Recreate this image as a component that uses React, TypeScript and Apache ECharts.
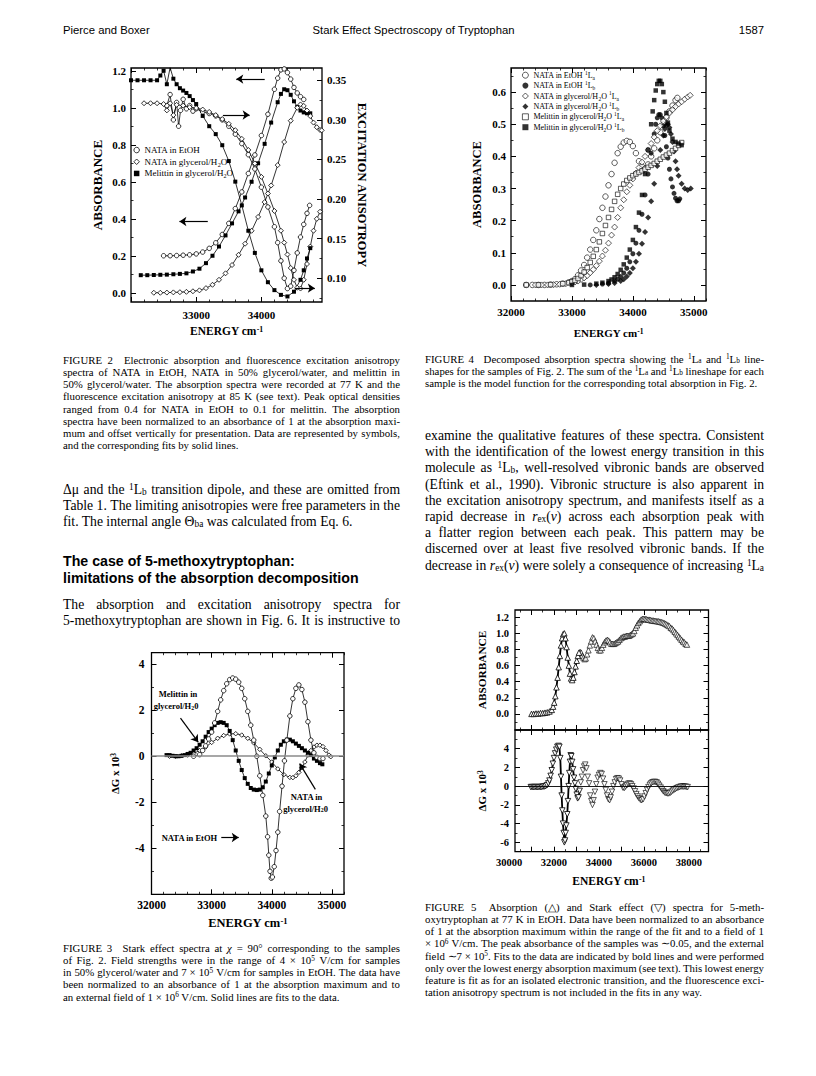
import React, { useEffect, useRef } from "react";
import * as echarts from "echarts";

type Pt = [number, number];

/* ====================== TEXT CONTENT ====================== */
const HEADER_LEFT = "Pierce and Boxer";
const HEADER_CENTER = "Stark Effect Spectroscopy of Tryptophan";
const HEADER_RIGHT = "1587";

const FIG2_CAPTION = [
  "FIGURE 2\u2002 Electronic absorption and fluorescence excitation anisotropy",
  "spectra of NATA in EtOH, NATA in 50% glycerol/water, and melittin in",
  "50% glycerol/water. The absorption spectra were recorded at 77 K and the",
  "fluorescence excitation anisotropy at 85 K (see text). Peak optical densities",
  "ranged from 0.4 for NATA in EtOH to 0.1 for melittin. The absorption",
  "spectra have been normalized to an absorbance of 1 at the absorption maxi-",
  "mum and offset vertically for presentation. Data are represented by symbols,",
  "and the corresponding fits by solid lines.",
];
const LEFT_BODY_1 = [
  "\u0394\u03BC and the {sup|1}L{sub|b} transition dipole, and these are omitted from",
  "Table 1. The limiting anisotropies were free parameters in the",
  "fit. The internal angle \u0398{sub|ba} was calculated from Eq. 6.",
];
const LEFT_HEADING = ["The case of 5-methoxytryptophan:", "limitations of the absorption decomposition"];
const LEFT_BODY_2 = [
  "The absorption and excitation anisotropy spectra for",
  "5-methoxytryptophan are shown in Fig. 6. It is instructive to",
];
const FIG4_CAPTION = [
  "FIGURE 4\u2002 Decomposed absorption spectra showing the {sup|1}L{sub|a} and {sup|1}L{sub|b} line-",
  "shapes for the samples of Fig. 2. The sum of the {sup|1}L{sub|a} and {sup|1}L{sub|b} lineshape for each",
  "sample is the model function for the corresponding total absorption in Fig. 2.",
];
const RIGHT_BODY = [
  "examine the qualitative features of these spectra. Consistent",
  "with the identification of the lowest energy transition in this",
  "molecule as {sup|1}L{sub|b}, well-resolved vibronic bands are observed",
  "(Eftink et al., 1990). Vibronic structure is also apparent in",
  "the excitation anisotropy spectrum, and manifests itself as a",
  "rapid decrease in {it|r}{sub|ex}({it|\u03BD}) across each absorption peak with",
  "a flatter region between each peak. This pattern may be",
  "discerned over at least five resolved vibronic bands. If the",
  "decrease in {it|r}{sub|ex}({it|\u03BD}) were solely a consequence of increasing {sup|1}L{sub|a}",
];
const FIG3_CAPTION = [
  "FIGURE 3\u2002 Stark effect spectra at {it|\u03C7} = 90\u00B0 corresponding to the samples",
  "of Fig. 2. Field strengths were in the range of 4 \u00D7 10{sup|5} V/cm for samples",
  "in 50% glycerol/water and 7 \u00D7 10{sup|5} V/cm for samples in EtOH. The data have",
  "been normalized to an absorbance of 1 at the absorption maximum and to",
  "an external field of 1 \u00D7 10{sup|6} V/cm. Solid lines are fits to the data.",
];
const FIG5_CAPTION = [
  "FIGURE 5\u2002 Absorption (\u25B3) and Stark effect (\u25BD) spectra for 5-meth-",
  "oxytryptophan at 77 K in EtOH. Data have been normalized to an absorbance",
  "of 1 at the absorption maximum within the range of the fit and to a field of 1",
  "\u00D7 10{sup|6} V/cm. The peak absorbance of the samples was \u223C0.05, and the external",
  "field \u223C7 \u00D7 10{sup|5}. Fits to the data are indicated by bold lines and were performed",
  "only over the lowest energy absorption maximum (see text). This lowest energy",
  "feature is fit as for an isolated electronic transition, and the fluorescence exci-",
  "tation anisotropy spectrum is not included in the fits in any way.",
];

const NAME_ENERGY = "ENERGY cm{sup|-1}";
const NAME_ABS = "ABSORBANCE";
const NAME_ANIS = "EXCITATION ANISOTROPY";
const NAME_DG = "\u0394G x 10{sup|3}";

/* ====================== FIGURE 2 DATA ====================== */
const F2_X_TICKS = [32000, 33000, 34000];
const F2_X_LABELS = [33000, 34000];
const F2_ABS_LABELS = [0, 0.2, 0.4, 0.6, 0.8, 1.0, 1.2];
const F2_ANI_LABELS = [0.1, 0.15, 0.2, 0.25, 0.3, 0.35];
const F2_NAMES = ["NATA in EtOH", "NATA in glycerol/H2O", "Melittin in glycerol/H2O"];

const F2_ABS_ETOH: Pt[] = [
  [32500, 0.2], [32600, 0.2], [32700, 0.201], [32800, 0.203], [32900, 0.205], [33000, 0.21],
  [33100, 0.22], [33200, 0.24], [33300, 0.27], [33400, 0.315], [33500, 0.375], [33600, 0.455],
  [33700, 0.545], [33800, 0.645], [33900, 0.745], [34000, 0.85], [34100, 0.965], [34200, 1.1],
  [34250, 1.16], [34300, 1.205], [34350, 1.21], [34400, 1.19], [34450, 1.155], [34500, 1.11],
  [34550, 1.08], [34600, 1.06], [34650, 1.045],
];
const F2_ABS_MEL: Pt[] = [
  [32150, 0.095], [32250, 0.095], [32350, 0.096], [32450, 0.097], [32550, 0.098], [32650, 0.1],
  [32750, 0.102], [32850, 0.105], [32950, 0.115], [33050, 0.13], [33150, 0.16], [33250, 0.2],
  [33350, 0.25], [33450, 0.31], [33550, 0.375], [33650, 0.44], [33750, 0.515], [33850, 0.6],
  [33950, 0.7], [34050, 0.805], [34150, 0.92], [34250, 1.03], [34300, 1.075], [34350, 1.1],
  [34400, 1.095], [34450, 1.07], [34500, 1.035], [34550, 1.005], [34600, 0.985], [34650, 0.975],
  [34700, 0.97], [34750, 0.97],
];
const F2_ABS_GLY: Pt[] = [
  [32350, 0.0], [32450, 0.0], [32550, 0.001], [32650, 0.002], [32750, 0.003], [32850, 0.005],
  [32950, 0.008], [33050, 0.013], [33150, 0.025], [33250, 0.043], [33350, 0.07], [33450, 0.105],
  [33550, 0.15], [33650, 0.205], [33750, 0.265], [33850, 0.335], [33950, 0.41], [34050, 0.49],
  [34150, 0.58], [34250, 0.69], [34350, 0.815], [34450, 0.93], [34550, 1.0], [34600, 1.018],
  [34650, 1.01], [34700, 0.985], [34750, 0.955], [34800, 0.92], [34850, 0.895], [34900, 0.88],
  [34925, 0.878],
];
const F2_ANI_ETOH: Pt[] = [
  [32550, 0.318], [32600, 0.332], [32650, 0.3], [32700, 0.322], [32730, 0.292], [32760, 0.312],
  [32800, 0.326], [32850, 0.314], [32900, 0.318], [32950, 0.311], [33000, 0.314], [33100, 0.31],
  [33200, 0.308], [33300, 0.305], [33400, 0.3], [33500, 0.292], [33600, 0.282], [33700, 0.27],
  [33800, 0.256], [33900, 0.238], [34000, 0.215], [34100, 0.19], [34200, 0.165], [34250, 0.145],
  [34300, 0.122], [34350, 0.1], [34400, 0.087], [34450, 0.09], [34500, 0.11], [34550, 0.132],
  [34600, 0.152], [34650, 0.168], [34700, 0.182], [34740, 0.192],
];
const F2_ANI_GLY: Pt[] = [
  [32200, 0.321], [32300, 0.321], [32400, 0.321], [32500, 0.32], [32550, 0.312], [32600, 0.321],
  [32650, 0.306], [32700, 0.319], [32800, 0.318], [32900, 0.316], [33000, 0.315], [33100, 0.313],
  [33200, 0.31], [33300, 0.306], [33400, 0.301], [33500, 0.295], [33600, 0.287], [33700, 0.276],
  [33800, 0.262], [33900, 0.245], [34000, 0.228], [34100, 0.207], [34200, 0.185], [34300, 0.16],
  [34350, 0.145], [34400, 0.13], [34450, 0.113], [34500, 0.098], [34550, 0.088], [34600, 0.087],
  [34650, 0.098], [34700, 0.118], [34750, 0.14], [34800, 0.16], [34850, 0.175], [34900, 0.184],
];
const F2_ANI_MEL: Pt[] = [
  [32000, 0.35], [32100, 0.35], [32200, 0.35], [32300, 0.35], [32400, 0.35], [32450, 0.356],
  [32500, 0.362], [32550, 0.345], [32600, 0.366], [32650, 0.352], [32700, 0.345], [32750, 0.34],
  [32800, 0.337], [32850, 0.334], [32900, 0.33], [32950, 0.325], [33000, 0.32], [33100, 0.305],
  [33200, 0.292], [33300, 0.282], [33400, 0.268], [33500, 0.248], [33600, 0.222], [33700, 0.192],
  [33800, 0.16], [33900, 0.132], [34000, 0.11], [34100, 0.095], [34200, 0.085], [34300, 0.079],
  [34400, 0.077], [34500, 0.083], [34600, 0.098], [34650, 0.11], [34700, 0.125], [34750, 0.138],
];
// arrows (data coordinates on the absorbance axis): [tail, head]
const F2_ARROWS: [Pt, Pt][] = [
  [[34051, 1.155], [33615, 1.155]],
  [[33410, 0.961], [33820, 0.961]],
  [[33178, 0.385], [32743, 0.385]],
  [[34512, 0.025], [34820, 0.025]],
];

/* ====================== FIGURE 4 DATA ====================== */
const F4_X_TICKS = [32000, 33000, 34000, 35000];
const F4_Y_TICKS = [0, 0.1, 0.2, 0.3, 0.4, 0.5, 0.6];
const F4_NAMES = [
  "NATA in EtOH 1La", "NATA in EtOH 1Lb", "NATA in glycerol/H2O 1La",
  "NATA in glycerol/H2O 1Lb", "Melittin in glycerol/H2O 1La", "Melittin in glycerol/H2O 1Lb",
];
const F4_ETOH_LA: Pt[] = [
  [32250, 0], [32350, 0], [32450, 0], [32550, 0], [32650, 0.001], [32750, 0.002], [32850, 0.004],
  [32950, 0.008], [33000, 0.012], [33050, 0.018], [33100, 0.03], [33150, 0.045], [33200, 0.062],
  [33250, 0.085], [33300, 0.11], [33350, 0.14], [33400, 0.17], [33450, 0.205], [33500, 0.24],
  [33550, 0.275], [33600, 0.31], [33650, 0.345], [33700, 0.38], [33750, 0.41], [33800, 0.43],
  [33850, 0.443], [33900, 0.448], [33950, 0.445], [34000, 0.432], [34050, 0.41], [34100, 0.385],
  [34150, 0.368], [34200, 0.362], [34250, 0.375], [34300, 0.4], [34350, 0.425], [34400, 0.45],
  [34450, 0.475], [34500, 0.5], [34550, 0.52], [34600, 0.54], [34650, 0.558], [34700, 0.575],
  [34730, 0.582],
];
const F4_ETOH_LB: Pt[] = [
  [33300, 0], [33500, 0.003], [33600, 0.006], [33700, 0.012], [33750, 0.018], [33800, 0.026],
  [33850, 0.037], [33900, 0.052], [33950, 0.072], [34000, 0.097], [34050, 0.13], [34100, 0.17],
  [34150, 0.22], [34200, 0.28], [34250, 0.345], [34300, 0.41], [34350, 0.47], [34375, 0.5],
  [34400, 0.52], [34425, 0.53], [34450, 0.53], [34475, 0.52], [34500, 0.495], [34525, 0.465],
  [34550, 0.43], [34575, 0.395], [34600, 0.36], [34625, 0.33], [34650, 0.305], [34675, 0.285],
  [34700, 0.27], [34725, 0.262], [34750, 0.262], [34770, 0.268],
];
const F4_GLY_LA: Pt[] = [
  [32400, 0], [32500, 0], [32600, 0], [32700, 0.001], [32800, 0.002], [32900, 0.004],
  [33000, 0.006], [33050, 0.009], [33100, 0.012], [33150, 0.017], [33200, 0.022], [33250, 0.029],
  [33300, 0.038], [33350, 0.048], [33400, 0.06], [33450, 0.074], [33500, 0.09], [33550, 0.108],
  [33600, 0.13], [33650, 0.155], [33700, 0.18], [33750, 0.21], [33800, 0.24], [33850, 0.265],
  [33900, 0.29], [33950, 0.31], [34000, 0.33], [34050, 0.348], [34100, 0.365], [34150, 0.382],
  [34200, 0.4], [34250, 0.42], [34300, 0.44], [34350, 0.46], [34400, 0.48], [34450, 0.495],
  [34500, 0.51], [34550, 0.523], [34600, 0.535], [34650, 0.545], [34700, 0.555], [34750, 0.563],
  [34800, 0.57], [34850, 0.578], [34900, 0.585], [34940, 0.59],
];
const F4_GLY_LB: Pt[] = [
  [33400, 0], [33600, 0.003], [33700, 0.006], [33800, 0.012], [33850, 0.018], [33900, 0.026],
  [33950, 0.037], [34000, 0.052], [34050, 0.072], [34100, 0.097], [34150, 0.128], [34200, 0.165],
  [34250, 0.21], [34300, 0.26], [34350, 0.315], [34400, 0.37], [34450, 0.42], [34500, 0.465],
  [34525, 0.485], [34550, 0.497], [34575, 0.5], [34600, 0.49], [34625, 0.47], [34650, 0.445],
  [34675, 0.415], [34700, 0.385], [34725, 0.36], [34750, 0.34], [34800, 0.315], [34850, 0.3],
  [34900, 0.295], [34950, 0.3],
];
const F4_MEL_LA: Pt[] = [
  [32250, 0], [32450, 0], [32650, 0.001], [32850, 0.004], [32950, 0.007], [33000, 0.01],
  [33050, 0.014], [33100, 0.02], [33150, 0.029], [33200, 0.04], [33250, 0.054], [33300, 0.07],
  [33350, 0.089], [33400, 0.11], [33450, 0.134], [33500, 0.16], [33550, 0.185], [33600, 0.21],
  [33650, 0.235], [33700, 0.26], [33750, 0.282], [33800, 0.3], [33850, 0.314], [33900, 0.325],
  [33950, 0.333], [34000, 0.34], [34050, 0.345], [34100, 0.35], [34150, 0.355], [34200, 0.36],
  [34250, 0.366], [34300, 0.372], [34350, 0.378], [34400, 0.385], [34450, 0.391], [34500, 0.398],
  [34550, 0.404], [34600, 0.41], [34650, 0.418], [34700, 0.425], [34750, 0.434], [34800, 0.443],
];
const F4_MEL_LB: Pt[] = [
  [33000, 0], [33200, 0.001], [33400, 0.004], [33500, 0.007], [33600, 0.012], [33650, 0.017],
  [33700, 0.024], [33750, 0.034], [33800, 0.047], [33850, 0.064], [33900, 0.085], [33950, 0.11],
  [34000, 0.14], [34050, 0.18], [34100, 0.225], [34150, 0.28], [34200, 0.345], [34250, 0.42],
  [34300, 0.5], [34325, 0.54], [34350, 0.575], [34375, 0.605], [34400, 0.625], [34425, 0.635],
  [34450, 0.635], [34475, 0.625], [34500, 0.6], [34525, 0.57], [34550, 0.535], [34575, 0.505],
  [34600, 0.48], [34650, 0.455], [34700, 0.445], [34750, 0.44], [34800, 0.435],
];

/* ====================== FIGURE 3 DATA ====================== */
const F3_X_TICKS = [32000, 33000, 34000, 35000];
const F3_Y_TICKS = [-4, -2, 0, 2, 4];
const F3_ETOH: Pt[] = [
  [32700, 0.0], [32800, 0.07], [32850, 0.25], [32900, 0.45], [32950, 0.75], [33000, 1.05],
  [33050, 1.45], [33100, 1.95], [33150, 2.45], [33200, 2.85], [33250, 3.15], [33300, 3.33],
  [33350, 3.4], [33400, 3.35], [33450, 3.22], [33500, 2.95], [33550, 2.5], [33600, 1.95],
  [33650, 1.35], [33700, 0.7], [33750, 0.0], [33800, -0.85], [33850, -1.7], [33900, -2.6],
  [33930, -3.5], [33950, -4.3], [33970, -5.0], [33990, -5.3], [34010, -5.25], [34040, -4.8],
  [34070, -4.1], [34100, -3.3], [34130, -2.4], [34170, -1.3], [34210, -0.2], [34250, 0.7],
  [34300, 1.75], [34350, 2.5], [34400, 2.95], [34450, 3.1], [34500, 2.9], [34550, 2.35],
  [34600, 1.5], [34650, 0.7], [34700, 0.15], [34750, -0.05], [34800, -0.1], [34850, -0.1],
];
const F3_MEL: Pt[] = [
  [32250, 0.05], [32300, 0.05], [32350, 0.02], [32400, 0.0], [32450, 0.0], [32500, 0.02],
  [32550, 0.05], [32600, 0.1], [32650, 0.15], [32700, 0.25], [32750, 0.35], [32800, 0.5],
  [32850, 0.65], [32900, 0.85], [32950, 1.05], [33000, 1.2], [33050, 1.35], [33100, 1.45],
  [33150, 1.48], [33200, 1.45], [33250, 1.35], [33300, 1.1], [33350, 0.7], [33400, 0.25],
  [33450, -0.2], [33500, -0.6], [33550, -0.95], [33600, -1.2], [33650, -1.38], [33700, -1.45],
  [33750, -1.47], [33800, -1.45], [33850, -1.35], [33900, -1.1], [33950, -0.75], [34000, -0.4],
  [34050, -0.05], [34100, 0.25], [34150, 0.5], [34200, 0.65], [34250, 0.72], [34300, 0.72],
  [34350, 0.65], [34400, 0.55], [34450, 0.45], [34500, 0.35], [34550, 0.25], [34600, 0.15],
  [34650, 0.05], [34700, -0.1], [34750, -0.2], [34800, -0.3], [34840, -0.35],
];
const F3_GLY: Pt[] = [
  [32300, 0.0], [32400, 0.0], [32500, 0.02], [32600, 0.05], [32700, 0.12], [32800, 0.25],
  [32900, 0.4], [33000, 0.6], [33100, 0.78], [33200, 0.9], [33300, 0.97], [33400, 0.98],
  [33500, 0.92], [33600, 0.78], [33700, 0.58], [33800, 0.3], [33900, 0.02], [34000, -0.25],
  [34100, -0.55], [34200, -0.8], [34300, -0.92], [34350, -0.93], [34400, -0.85], [34450, -0.7],
  [34500, -0.5], [34550, -0.25], [34600, 0.05], [34650, 0.25], [34700, 0.4], [34750, 0.48],
  [34800, 0.48], [34850, 0.42], [34900, 0.25], [34950, 0.05], [34980, -0.02],
];
const F3_ARROWS: [Pt, Pt][] = [
  [[32482, 1.66], [32776, 0.61]],
  [[34724, -1.44], [34463, -0.32]],
  [[33160, -3.53], [33450, -3.53]],
];
const F3_NOTES = ["Melittin in", "glycerol/H{sub|2}0", "NATA in", "glycerol/H{sub|2}0", "NATA in EtOH"];

/* ====================== FIGURE 5 DATA ====================== */
const F5_X_LABELS = [30000, 32000, 34000, 36000, 38000];
const F5_ABS_TICKS = [0, 0.2, 0.4, 0.6, 0.8, 1.0, 1.2];
const F5_DG_TICKS = [-6, -4, -2, 0, 2, 4];
const F5_FIT_END = 33150;
const F5_ABS: Pt[] = [
  [31000, 0.0], [31100, 0.0], [31200, 0.005], [31300, 0.005], [31400, 0.01], [31500, 0.01],
  [31600, 0.015], [31700, 0.02], [31800, 0.03], [31900, 0.05], [31960, 0.09], [32010, 0.14],
  [32060, 0.22], [32110, 0.33], [32160, 0.45], [32210, 0.58], [32260, 0.72], [32310, 0.85],
  [32360, 0.94], [32410, 0.99], [32460, 1.0], [32510, 0.94], [32560, 0.83], [32610, 0.7],
  [32660, 0.6], [32710, 0.5], [32760, 0.44], [32810, 0.42], [32860, 0.45], [32910, 0.52],
  [32960, 0.59], [33010, 0.66], [33060, 0.72], [33110, 0.76], [33160, 0.77], [33210, 0.76],
  [33260, 0.72], [33310, 0.7], [33360, 0.68], [33410, 0.69], [33470, 0.74], [33530, 0.79],
  [33590, 0.85], [33650, 0.9], [33710, 0.95], [33770, 0.94], [33830, 0.9], [33890, 0.86],
  [33950, 0.82], [34010, 0.79], [34070, 0.79], [34130, 0.82], [34190, 0.86], [34250, 0.89],
  [34310, 0.91], [34370, 0.92], [34430, 0.91], [34490, 0.89], [34550, 0.87], [34610, 0.87],
  [34670, 0.87], [34730, 0.88], [34790, 0.89], [34850, 0.9], [34910, 0.92], [34970, 0.94],
  [35030, 0.95], [35090, 0.96], [35150, 0.96], [35210, 0.97], [35270, 0.97], [35330, 0.97],
  [35390, 0.98], [35450, 0.99], [35510, 1.0], [35570, 1.03], [35630, 1.07], [35690, 1.1],
  [35750, 1.13], [35810, 1.15], [35870, 1.17], [35930, 1.18], [35990, 1.18], [36050, 1.18],
  [36110, 1.175], [36170, 1.17], [36230, 1.17], [36290, 1.165], [36350, 1.16], [36410, 1.16],
  [36470, 1.155], [36530, 1.155], [36590, 1.15], [36650, 1.15], [36710, 1.145], [36770, 1.14],
  [36830, 1.135], [36890, 1.13], [36950, 1.12], [37010, 1.11], [37070, 1.1], [37130, 1.09],
  [37190, 1.07], [37250, 1.06], [37310, 1.04], [37370, 1.02], [37430, 1.0], [37490, 0.98],
  [37550, 0.96], [37610, 0.94], [37670, 0.92], [37730, 0.9], [37790, 0.89], [37850, 0.87],
  [37910, 0.86],
];
const F5_DG: Pt[] = [
  [30970, -0.1], [31030, -0.1], [31090, -0.1], [31150, -0.1], [31210, -0.1], [31270, -0.1],
  [31330, -0.1], [31390, -0.1], [31450, -0.08], [31510, -0.06], [31570, -0.04], [31630, 0.0],
  [31690, 0.1], [31750, 0.3], [31800, 0.6], [31850, 1.1], [31900, 1.7], [31950, 2.4],
  [32000, 3.0], [32050, 3.5], [32100, 3.9], [32150, 4.2], [32200, 4.3], [32240, 4.2],
  [32280, 3.0], [32310, 1.0], [32340, -1.0], [32370, -2.6], [32400, -4.0], [32430, -5.0],
  [32460, -6.0], [32490, -5.8], [32520, -5.0], [32550, -4.2], [32590, -3.0], [32620, -1.6],
  [32650, 0.0], [32680, 1.4], [32710, 2.6], [32740, 3.3], [32770, 3.2], [32810, 2.6],
  [32850, 1.8], [32890, 0.9], [32930, 0.3], [32970, -0.3], [33010, -0.9], [33050, -1.3],
  [33090, -1.2], [33140, -0.5], [33190, 0.4], [33240, 1.0], [33290, 1.7], [33340, 2.1],
  [33390, 2.3], [33440, 1.9], [33500, 1.0], [33560, 0.3], [33610, -1.0], [33660, -1.6],
  [33710, -2.0], [33760, -1.5], [33820, -0.6], [33880, 0.2], [33940, 0.9], [34000, 1.2],
  [34060, 1.4], [34120, 1.3], [34180, 0.8], [34240, 0.2], [34300, -0.4], [34360, -1.0],
  [34420, -1.4], [34470, -1.5], [34520, -1.2], [34580, -0.6], [34640, 0.0], [34700, 0.4],
  [34760, 0.75], [34820, 0.85], [34880, 0.8], [34940, 0.6], [35000, 0.2], [35060, -0.15],
  [35120, -0.2], [35180, -0.05], [35240, 0.1], [35300, 0.25], [35360, 0.3], [35420, 0.2],
  [35480, 0.0], [35540, -0.25], [35600, -0.55], [35660, -0.85], [35720, -1.1], [35780, -1.3],
  [35840, -1.45], [35900, -1.5], [35960, -1.4], [36020, -1.1], [36080, -0.75], [36140, -0.4],
  [36200, -0.1], [36260, 0.15], [36320, 0.3], [36380, 0.42], [36440, 0.45], [36500, 0.45],
  [36560, 0.4], [36620, 0.25], [36680, 0.05], [36740, -0.15], [36800, -0.35], [36860, -0.55],
  [36920, -0.68], [36980, -0.75], [37040, -0.78], [37100, -0.78], [37160, -0.72], [37220, -0.6],
  [37280, -0.48], [37340, -0.38], [37400, -0.3], [37460, -0.22], [37520, -0.15], [37580, -0.1],
  [37640, -0.05], [37700, -0.05], [37760, -0.05], [37820, -0.05], [37880, -0.08], [37940, -0.1],
];

/* ====================== STYLE / LAYOUT ====================== */
const W = 816;
const H = 1076;
const SERIF = "'Liberation Serif', 'Times New Roman', Times, serif";
const SANS = "'Liberation Sans', Arial, Helvetica, sans-serif";
const OPEN = { color: "#fff", borderColor: "#000", borderWidth: 0.8 };
const FILL = { color: "#000", borderColor: "#000", borderWidth: 0 };

function range(a: number, b: number, d: number) {
  const out: number[] = [];
  for (let i = 0; a + i * d <= b + 1e-9; i++) out.push(Math.round((a + i * d) * 1e6) / 1e6);
  return out;
}
function minors(a: number, b: number, d: number, majors: number[]) {
  return range(a, b, d).filter((v) => !majors.some((m) => Math.abs(m - v) < 1e-9));
}

const SMALL = 0.68;
function richStyles(size: number, family: string, weight: string, gap?: number) {
  const small = Math.round(size * SMALL * 10) / 10;
  const r: any = {
    sup: { fontSize: small, fontFamily: family, fontWeight: weight, verticalAlign: "top", lineHeight: small * 1.05, fill: "#000", color: "#000" },
    sub: { fontSize: small, fontFamily: family, fontWeight: weight, verticalAlign: "bottom", lineHeight: small * 1.05, fill: "#000", color: "#000" },
    it: { fontSize: size, fontFamily: family, fontWeight: weight, fontStyle: "italic", fill: "#000", color: "#000" },
  };
  if (gap != null) r.g = { width: gap, fontSize: size, fontFamily: family, fontWeight: weight, fill: "#000" };
  return r;
}

let _ctx: CanvasRenderingContext2D | null = null;
function measure(line: string, size: number, family: string, weight = "normal") {
  if (!_ctx) _ctx = document.createElement("canvas").getContext("2d");
  const ctx = _ctx!;
  let w = 0;
  const re = /\{(\w+)\|([^}]*)\}/g;
  let last = 0;
  let m: RegExpExecArray | null;
  const run = (t: string, sz: number, style = "") => {
    if (!t) return;
    ctx.font = `${style}${weight} ${sz}px ${family}`;
    w += ctx.measureText(t).width;
  };
  while ((m = re.exec(line))) {
    run(line.slice(last, m.index), size);
    if (m[1] === "sub" || m[1] === "sup") run(m[2], Math.round(size * SMALL * 10) / 10);
    else run(m[2], size, m[1] === "it" ? "italic " : "");
    last = re.lastIndex;
  }
  run(line.slice(last), size);
  return w;
}
function fitSize(lines: string[], width: number) {
  let s = 100;
  for (const l of lines) s = Math.min(s, width / (measure(l, 100, SERIF) / 100));
  return s;
}

function txt(x: number, y: number, text: string, size: number, family: string, weight = "normal", align = "left", gap?: number) {
  return {
    type: "text",
    x,
    y,
    silent: true,
    z: 10,
    style: {
      text,
      fontSize: size,
      fontFamily: family,
      fontWeight: weight,
      fill: "#000",
      textAlign: align,
      textVerticalAlign: "middle",
      align,
      verticalAlign: "middle",
      rich: richStyles(size, family, weight, gap),
    },
  };
}

// one justified line (single text element, inter-word gaps as sized rich tokens)
function jline(x: number, y: number, line: string, size: number, colW: number, justify: boolean) {
  const words = line.split(" ");
  if (!justify || words.length < 2) return txt(x, y, line, size, SERIF);
  let sz = size;
  const spaceW = measure(" ", size, SERIF);
  let wordsW = words.reduce((s, w) => s + measure(w, size, SERIF), 0);
  let gap = (colW - wordsW) / (words.length - 1);
  if (gap < spaceW * 0.7) {
    const k = colW / (wordsW + spaceW * 0.7 * (words.length - 1));
    sz = size * k;
    wordsW = words.reduce((s, w) => s + measure(w, sz, SERIF), 0);
    gap = (colW - wordsW) / (words.length - 1);
  }
  return txt(x, y, words.join("{g| }"), sz, SERIF, "normal", "left", gap);
}

function legendMarkup(name: string) {
  return name.replace(/H2O/g, "H{sub|2}O").replace(/ 1L([ab])$/, " {sup|1}L{sub|$1}");
}

function buildOption() {
  const xAxes: any[] = [];
  const yAxes: any[] = [];
  const series: any[] = [];
  const add = (l: any[], o: any) => {
    l.push(o);
    return l.length - 1;
  };

  const mkAxis = (grid: number, min: number, max: number, pos: string, ticks: number[], len: number, lab?: any) => {
    const o: any = {
      type: "value",
      gridIndex: grid,
      min,
      max,
      position: pos,
      silent: true,
      axisLine: { show: false, onZero: false },
      splitLine: { show: false },
      splitArea: { show: false },
      axisPointer: { show: false },
      axisTick: { show: true, inside: true, length: len, customValues: ticks, lineStyle: { color: "#000", width: len > 3 ? 1 : 0.8 } },
      axisLabel: { show: false },
    };
    if (lab) {
      o.axisLabel = {
        show: true,
        customValues: lab.values,
        formatter: lab.fmt,
        fontFamily: SERIF,
        fontWeight: "bold",
        fontSize: lab.size,
        color: "#000",
        margin: lab.margin,
      };
      if (lab.name) {
        o.name = lab.name;
        o.nameLocation = "middle";
        o.nameGap = lab.nameGap;
        if (lab.nameRotate != null) o.nameRotate = lab.nameRotate;
        o.nameTextStyle = {
          fontFamily: SERIF,
          fontWeight: "bold",
          fontSize: lab.nameSize,
          color: "#000",
          rich: richStyles(lab.nameSize, SERIF, "bold"),
        };
      }
    }
    return o;
  };

  const frame = (grid: number, X: any, Y: any, xLab: any, yLab: any, YR?: any) => {
    const xi = add(xAxes, mkAxis(grid, X.min, X.max, "bottom", X.major, 5, xLab));
    add(xAxes, mkAxis(grid, X.min, X.max, "bottom", X.minor, 2.5));
    add(xAxes, mkAxis(grid, X.min, X.max, "top", X.major, 5));
    add(xAxes, mkAxis(grid, X.min, X.max, "top", X.minor, 2.5));
    const yi = add(yAxes, mkAxis(grid, Y.min, Y.max, "left", Y.major, 5, yLab));
    add(yAxes, mkAxis(grid, Y.min, Y.max, "left", Y.minor, 2.5));
    let yr = -1;
    if (YR) {
      yr = add(yAxes, mkAxis(grid, YR.min, YR.max, "right", YR.major, 5, YR.lab));
      add(yAxes, mkAxis(grid, YR.min, YR.max, "right", YR.minor, 2.5));
    } else {
      add(yAxes, mkAxis(grid, Y.min, Y.max, "right", Y.major, 5));
      add(yAxes, mkAxis(grid, Y.min, Y.max, "right", Y.minor, 2.5));
    }
    return { xi, yi, yr };
  };

  const symLine = (name: string, data: Pt[], xi: number, yi: number, symbol: string, size: number, filled: boolean, lw: number, extra: any = {}) => ({
    type: "line",
    name,
    data,
    xAxisIndex: xi,
    yAxisIndex: yi,
    symbol,
    symbolSize: size,
    showSymbol: true,
    showAllSymbol: true,
    itemStyle: filled ? FILL : OPEN,
    lineStyle: { color: "#000", width: lw },
    emphasis: { disabled: true },
    silent: true,
    ...extra,
  });
  const symScatter = (name: string, data: Pt[], xi: number, yi: number, symbol: string, size: number, filled: boolean, extra: any = {}) => ({
    type: "scatter",
    name,
    data,
    xAxisIndex: xi,
    yAxisIndex: yi,
    symbol,
    symbolSize: size,
    itemStyle: filled ? FILL : OPEN,
    emphasis: { disabled: true },
    silent: true,
    ...extra,
  });
  const arrows = (list: [Pt, Pt][]) => ({
    silent: true,
    symbol: ["none", "arrow"],
    symbolSize: 7,
    label: { show: false },
    emphasis: { disabled: true },
    lineStyle: { color: "#000", width: 1.2, type: "solid" },
    data: list.map(([a, b]) => [{ coord: a }, { coord: b }]),
  });
  const zeroLine = (color: string, width: number) => ({
    silent: true,
    symbol: ["none", "none"],
    label: { show: false },
    emphasis: { disabled: true },
    lineStyle: { color, width, type: "solid" },
    data: [{ yAxis: 0 }],
  });

  const grids = [
    { left: 131, top: 68, width: 191, height: 234, show: true },
    { left: 511, top: 68, width: 195, height: 233, show: true },
    { left: 151.5, top: 652.7, width: 192.5, height: 241.6, show: true },
    { left: 515, top: 610, width: 193.5, height: 120, show: true },
    { left: 515, top: 730, width: 193.5, height: 121.7, show: true },
    { left: 509, top: 730, width: 199.5, height: 121.7, show: false },
  ].map((g) => ({ ...g, borderColor: "#000", borderWidth: 1.3, backgroundColor: "transparent", containLabel: false }));

  /* ---------- Figure 2 ---------- */
  const f2 = frame(
    0,
    { min: 32000, max: 34930, major: F2_X_TICKS, minor: minors(32000, 34930, 200, F2_X_TICKS) },
    { min: -0.05, max: 1.215, major: F2_ABS_LABELS, minor: minors(0.1, 1.2, 0.2, []) },
    { values: F2_X_LABELS, fmt: (v: number) => String(v), size: 11, margin: 7, name: NAME_ENERGY, nameGap: 23, nameSize: 11.5 },
    { values: F2_ABS_LABELS, fmt: (v: number) => v.toFixed(1), size: 11, margin: 5, name: NAME_ABS, nameGap: 27.5, nameRotate: 90, nameSize: 13 },
    {
      min: 0.07,
      max: 0.3655,
      major: F2_ANI_LABELS,
      minor: minors(0.075, 0.3625, 0.025, F2_ANI_LABELS),
      lab: { values: F2_ANI_LABELS, fmt: (v: number) => v.toFixed(2), size: 11, margin: 5, name: NAME_ANIS, nameGap: 33, nameRotate: -90, nameSize: 12.5 },
    }
  );
  series.push(symLine(F2_NAMES[0], F2_ABS_ETOH, f2.xi, f2.yi, "circle", 4.5, false, 0.8, { markLine: arrows(F2_ARROWS) }));
  series.push(symLine(F2_NAMES[2], F2_ABS_MEL, f2.xi, f2.yi, "rect", 4, true, 0.8));
  series.push(symLine(F2_NAMES[1], F2_ABS_GLY, f2.xi, f2.yi, "diamond", 5, false, 0.8));
  series.push(symLine(F2_NAMES[0], F2_ANI_ETOH, f2.xi, f2.yr, "circle", 4.5, false, 0.8));
  series.push(symLine(F2_NAMES[1], F2_ANI_GLY, f2.xi, f2.yr, "diamond", 5, false, 0.8));
  series.push(symLine(F2_NAMES[2], F2_ANI_MEL, f2.xi, f2.yr, "rect", 4, true, 0.8));

  /* ---------- Figure 4 ---------- */
  const f4 = frame(
    1,
    { min: 32000, max: 35200, major: F4_X_TICKS, minor: minors(32200, 35200, 200, F4_X_TICKS) },
    { min: -0.05, max: 0.675, major: F4_Y_TICKS, minor: minors(0.05, 0.65, 0.1, []) },
    { values: F4_X_TICKS, fmt: (v: number) => String(v), size: 11, margin: 5, name: NAME_ENERGY, nameGap: 26, nameSize: 11 },
    { values: F4_Y_TICKS, fmt: (v: number) => v.toFixed(1), size: 11, margin: 5, name: NAME_ABS, nameGap: 28, nameRotate: 90, nameSize: 12.5 }
  );
  const f4data = [F4_ETOH_LA, F4_ETOH_LB, F4_GLY_LA, F4_GLY_LB, F4_MEL_LA, F4_MEL_LB];
  const f4sym = ["circle", "circle", "diamond", "diamond", "rect", "rect"];
  const f4size = [5.5, 5, 6, 6, 4.5, 4.5];
  f4data.forEach((d, i) => series.push(symScatter(F4_NAMES[i], d, f4.xi, f4.yi, f4sym[i], f4size[i], i % 2 === 1)));

  /* ---------- Figure 3 ---------- */
  const f3 = frame(
    2,
    { min: 32000, max: 35200, major: F3_X_TICKS, minor: minors(32200, 35200, 200, F3_X_TICKS) },
    { min: -6, max: 4.5, major: F3_Y_TICKS, minor: [-5, -3, -1, 1, 3] },
    { values: F3_X_TICKS, fmt: (v: number) => String(v), size: 11.5, margin: 5, name: NAME_ENERGY, nameGap: 22.5, nameSize: 12.5 },
    { values: F3_Y_TICKS, fmt: (v: number) => String(v), size: 11.5, margin: 7, name: NAME_DG, nameGap: 31, nameRotate: 90, nameSize: 11 }
  );
  series.push(symLine("\u0394G NATA in glycerol/H2O", F3_GLY, f3.xi, f3.yi, "diamond", 4.5, false, 0.8, { markLine: zeroLine("#8a8a8a", 1.6), z: 2 }));
  series.push(symLine("\u0394G Melittin in glycerol/H2O", F3_MEL, f3.xi, f3.yi, "rect", 4, true, 0.8, { z: 3 }));
  series.push(symLine("\u0394G NATA in EtOH", F3_ETOH, f3.xi, f3.yi, "circle", 4.5, false, 0.8, { markLine: arrows(F3_ARROWS), z: 4 }));

  /* ---------- Figure 5 ---------- */
  const f5x = { min: 30267, max: 38867, major: range(31000, 38000, 1000), minor: range(30500, 38500, 1000) };
  const f5u = frame(
    3,
    f5x,
    { min: -0.2, max: 1.29, major: F5_ABS_TICKS, minor: range(-0.1, 1.1, 0.2) },
    null,
    { values: F5_ABS_TICKS, fmt: (v: number) => v.toFixed(1), size: 10.5, margin: 6, name: NAME_ABS, nameGap: 27.7, nameRotate: 90, nameSize: 11.3 }
  );
  const f5l = frame(
    4,
    f5x,
    { min: -7, max: 6, major: F5_DG_TICKS, minor: range(-5, 5, 2) },
    null,
    { values: F5_DG_TICKS, fmt: (v: number) => String(v), size: 10.5, margin: 6, name: NAME_DG, nameGap: 27.7, nameRotate: 90, nameSize: 11 }
  );
  add(xAxes, {
    type: "value",
    gridIndex: 5,
    min: 30000,
    max: 38867,
    position: "bottom",
    silent: true,
    axisLine: { show: false, onZero: false },
    axisTick: { show: false },
    splitLine: { show: false },
    axisPointer: { show: false },
    axisLabel: { show: true, customValues: F5_X_LABELS, formatter: (v: number) => String(v), fontFamily: SERIF, fontWeight: "bold", fontSize: 10.5, color: "#000", margin: 5 },
    name: NAME_ENERGY,
    nameLocation: "middle",
    nameGap: 23.5,
    nameTextStyle: { fontFamily: SERIF, fontWeight: "bold", fontSize: 11.5, color: "#000", rich: richStyles(11.5, SERIF, "bold") },
  });
  add(yAxes, { type: "value", gridIndex: 5, min: 0, max: 1, show: false });

  const absFit = F5_ABS.filter((p) => p[0] <= F5_FIT_END);
  const absRest = F5_ABS.filter((p) => p[0] > F5_FIT_END);
  const dgFit = F5_DG.filter((p) => p[0] <= F5_FIT_END);
  const dgRest = F5_DG.filter((p) => p[0] > F5_FIT_END);
  series.push(symLine("Absorption fit", absFit, f5u.xi, f5u.yi, "triangle", 5.5, false, 1.8));
  series.push(symScatter("Absorption", absRest, f5u.xi, f5u.yi, "triangle", 5.5, false));
  series.push(symLine("Stark fit", dgFit, f5l.xi, f5l.yi, "triangle", 5.5, false, 1.8, { symbolRotate: 180 }));
  series.push(symScatter("Stark", dgRest, f5l.xi, f5l.yi, "triangle", 5.5, false, { symbolRotate: 180, markLine: zeroLine("#000", 0.9) }));

  /* ---------- Legends ---------- */
  const legends = [
    {
      show: true,
      orient: "vertical",
      left: 133.5,
      top: 144.2,
      padding: 0,
      itemGap: 0,
      itemWidth: 5.5,
      itemHeight: 5.5,
      selectedMode: false,
      data: [
        { name: F2_NAMES[0], icon: "circle", itemStyle: OPEN },
        { name: F2_NAMES[1], icon: "diamond", itemStyle: OPEN },
        { name: F2_NAMES[2], icon: "rect", itemStyle: FILL },
      ],
      formatter: legendMarkup,
      textStyle: { fontFamily: SERIF, fontSize: 9, color: "#000", lineHeight: 11.7, rich: richStyles(9, SERIF, "normal") },
    },
    {
      show: true,
      orient: "vertical",
      left: 522,
      top: 70,
      padding: 0,
      itemGap: 0,
      itemWidth: 6,
      itemHeight: 6,
      selectedMode: false,
      data: F4_NAMES.map((n, i) => ({ name: n, icon: f4sym[i], itemStyle: i % 2 === 1 ? FILL : OPEN })),
      formatter: legendMarkup,
      textStyle: { fontFamily: SERIF, fontSize: 8, color: "#000", lineHeight: 10.4, rich: richStyles(8, SERIF, "normal") },
    },
  ];

  /* ---------- Page text ---------- */
  const LX = 63, LW = 337, RX = 425, RW = 339;
  const bodySize = Math.max(12.4, Math.min(14, Math.min(
    fitSize([LEFT_BODY_1[0], LEFT_BODY_1[1], ...LEFT_BODY_2], LW),
    fitSize(RIGHT_BODY, RW)
  )));
  const capSize = 10.8;
  const CAP = 12.15;
  const BODY = 16.2;
  const els: any[] = [];
  els.push(txt(LX, 30, HEADER_LEFT, 11.3, SANS));
  els.push(txt(413.5, 30, HEADER_CENTER, 11.3, SANS, "normal", "center"));
  els.push(txt(764, 30, HEADER_RIGHT, 11.3, SANS, "normal", "right"));
  FIG2_CAPTION.forEach((l, i) => els.push(jline(LX, 360 + i * CAP, l, capSize, LW, i < FIG2_CAPTION.length - 1)));
  LEFT_BODY_1.forEach((l, i) => els.push(jline(LX, 489 + i * BODY, l, bodySize, LW, i < LEFT_BODY_1.length - 1)));
  LEFT_HEADING.forEach((l, i) => els.push(txt(LX, 560.5 + i * 17.3, l, 14.2, SANS, "bold")));
  LEFT_BODY_2.forEach((l, i) => els.push(jline(LX, 604 + i * 16.5, l, bodySize, LW, true)));
  FIG4_CAPTION.forEach((l, i) => els.push(jline(RX, 358.5 + i * CAP, l, capSize, RW, i < FIG4_CAPTION.length - 1)));
  RIGHT_BODY.forEach((l, i) => els.push(jline(RX, 435.5 + i * BODY, l, bodySize, RW, true)));
  FIG3_CAPTION.forEach((l, i) => els.push(jline(LX, 948 + i * CAP, l, capSize, LW, i < FIG3_CAPTION.length - 1)));
  FIG5_CAPTION.forEach((l, i) => els.push(jline(RX, 907 + i * CAP, l, capSize, RW, i < FIG5_CAPTION.length - 1)));
  // Figure 3 annotations
  els.push(txt(178, 694, F3_NOTES[0], 8.5, SERIF, "bold", "center"));
  els.push(txt(176, 706, F3_NOTES[1], 8.5, SERIF, "bold", "center"));
  els.push(txt(306.5, 797, F3_NOTES[2], 8.5, SERIF, "bold", "center"));
  els.push(txt(305.5, 808.5, F3_NOTES[3], 8.5, SERIF, "bold", "center"));
  els.push(txt(161.7, 838.3, F3_NOTES[4], 8.5, SERIF, "bold", "left"));

  return {
    animation: false,
    backgroundColor: "#fff",
    textStyle: { fontFamily: SERIF, color: "#000" },
    tooltip: { show: false },
    grid: grids,
    xAxis: xAxes,
    yAxis: yAxes,
    legend: legends,
    series,
    graphic: { elements: els },
  };
}

export default function App() {
  const ref = useRef<HTMLDivElement | null>(null);
  useEffect(() => {
    if (!ref.current) return;
    const chart = echarts.init(ref.current, null, { renderer: "svg", width: W, height: H });
    chart.setOption(buildOption() as any);
    return () => chart.dispose();
  }, []);
  return (
    <div
      ref={ref}
      style={{ position: "absolute", left: 0, top: 0, width: W, height: H, background: "#fff" }}
    />
  );
}
